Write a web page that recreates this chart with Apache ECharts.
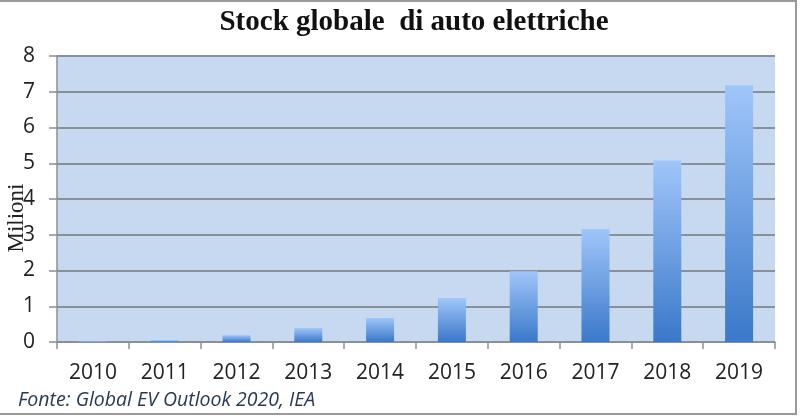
<!DOCTYPE html>
<html>
<head>
<meta charset="utf-8">
<script src="https://cdn.jsdelivr.net/npm/echarts@6.0.0/dist/echarts.min.js"></script>
<style>
    html, body { margin: 0; padding: 0; background: #fff; }
    #wrap { position: relative; width: 800px; height: 417px; }
    #chart { width: 800px; height: 417px; }
    #frame {
        position: absolute; left: 0; top: 0; width: 797px; height: 415px;
        border-top: 2px solid #9a9a9a; border-right: 2px solid #9a9a9a; border-bottom: 2px solid #9a9a9a;
        box-sizing: border-box; pointer-events: none;
    }
</style>
</head>
<body>
<div id="wrap">
    <div id="chart"></div>
    <div id="frame"></div>
</div>
<script>
    const years = ["2010", "2011", "2012", "2013", "2014", "2015", "2016", "2017", "2018", "2019"];
    const stockMillions = [0.02, 0.05, 0.19, 0.39, 0.67, 1.23, 1.98, 3.16, 5.08, 7.18];
    const yTicks = { min: 0, max: 8, interval: 1 };

    const titleText = "Stock globale  di auto elettriche";
    const axisName = "Milioni";
    const sourceText = "Fonte: Global EV Outlook 2020, IEA";

    const gridColor = "#8a9098";
    const labelFont = "Open Sans, Liberation Sans, sans-serif";

    const chart = echarts.init(document.getElementById("chart"), null, { renderer: "canvas" });

    chart.setOption({
        animation: false,
        grid: {
            left: 57,
            right: 25,
            top: 56,
            bottom: 75,
            show: true,
            backgroundColor: "#c6d9f0",
            borderWidth: 0
        },
        graphic: [
            {
                type: "text",
                x: 414,
                y: 23,
                style: {
                    text: titleText,
                    textAlign: "center",
                    textVerticalAlign: "middle",
                    font: "bold 29px 'Liberation Serif', serif",
                    fill: "#111"
                }
            },
            {
                type: "text",
                x: 17,
                y: 218,
                rotation: Math.PI / 2,
                style: {
                    text: axisName,
                    textAlign: "center",
                    textVerticalAlign: "middle",
                    font: "23px 'Liberation Serif', serif",
                    fill: "#222"
                }
            },
            {
                type: "text",
                x: 18,
                y: 400,
                style: {
                    text: sourceText,
                    textAlign: "left",
                    textVerticalAlign: "middle",
                    font: "italic 19.5px 'Open Sans', sans-serif",
                    fill: "#263a58"
                }
            }
        ],
        xAxis: {
            type: "category",
            data: years,
            axisLine: { lineStyle: { color: gridColor, width: 1.5 } },
            axisTick: { show: true, length: 7, lineStyle: { color: gridColor, width: 1.5 } },
            axisLabel: {
                color: "#222",
                fontFamily: labelFont,
                fontSize: 21,
                margin: 21
            }
        },
        yAxis: {
            type: "value",
            min: yTicks.min,
            max: yTicks.max,
            interval: yTicks.interval,
            axisLine: { show: true, lineStyle: { color: gridColor, width: 1.5 } },
            axisTick: { show: true, length: 8, lineStyle: { color: gridColor, width: 1.5 } },
            splitLine: { lineStyle: { color: gridColor, width: 2 } },
            axisLabel: {
                color: "#222",
                fontFamily: labelFont,
                fontSize: 21,
                margin: 22
            }
        },
        series: [
            {
                type: "bar",
                data: stockMillions,
                barWidth: 28,
                itemStyle: {
                    color: new echarts.graphic.LinearGradient(0, 0, 0, 1, [
                        { offset: 0, color: "#a0c6fa" },
                        { offset: 1, color: "#3a78c9" }
                    ])
                }
            }
        ]
    });
</script>
</body>
</html>
